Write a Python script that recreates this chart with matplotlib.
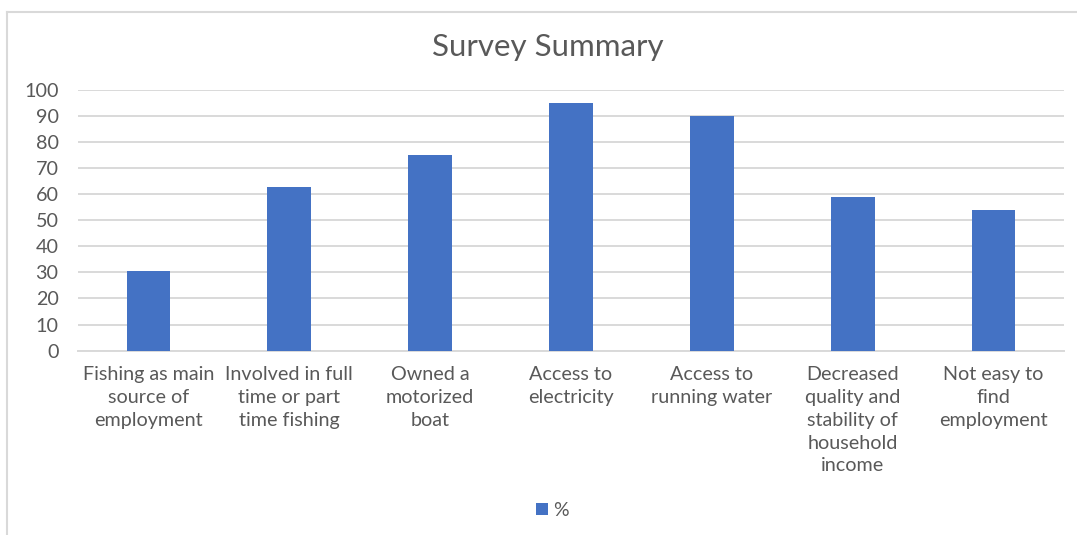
import matplotlib
matplotlib.use('Agg')
import matplotlib.pyplot as plt
import numpy as np

kategoriler = [
    'Fishing as main\nsource of\nemployment',
    'Involved in full\ntime or part\ntime fishing',
    'Owned a\nmotorized\nboat',
    'Access to\nelectricity',
    'Access to\nrunning water',
    'Decreased\nquality and\nstability of\nhousehold\nincome',
    'Not easy to\nfind\nemployment',
]
yuzdeler = [30.6, 62.6, 75, 95, 90, 58.7, 53.7]
y_ticks = [0, 10, 20, 30, 40, 50, 60, 70, 80, 90, 100]
seri_adi = '%'

plt.rcParams['font.family'] = ['Lato', 'DejaVu Sans']
gri_yazi = '#595959'
grid_renk = '#d9d9d9'

fig = plt.figure(figsize=(10.77, 5.35), dpi=100)
ax = fig.add_axes([0.0724, 0.3445, 0.9156, 0.4882])

x = np.arange(len(kategoriler))
ax.bar(x, yuzdeler, width=0.31, color='#4472C4', label=seri_adi, zorder=3)

ax.set_xlim(-0.5, len(kategoriler) - 0.5)
ax.set_ylim(0, 100)
ax.set_yticks(y_ticks)
ax.set_xticks(x)
ax.set_xticklabels(kategoriler, fontsize=14.2, color=gri_yazi, linespacing=1.42, va='top')
ax.tick_params(axis='y', labelsize=14.2, labelcolor=gri_yazi, length=0, pad=14)
ax.tick_params(axis='x', length=0, pad=11)
ax.yaxis.grid(True, color=grid_renk, linewidth=1.4, zorder=0)
for s in ['top', 'right', 'left']:
    ax.spines[s].set_visible(False)
ax.spines['bottom'].set_color(grid_renk)
ax.spines['bottom'].set_linewidth(1.4)

fig.text(0.509, 0.912, 'Survey Summary', ha='center', va='center', fontsize=22.5, color=gri_yazi)
fig.legend(loc='center', bbox_to_anchor=(0.513, 0.046), frameon=False, fontsize=14,
           handlelength=0.6, handleheight=0.6, handletextpad=0.3, labelcolor=gri_yazi)

# grafik cercevesi (sol ve ust kenar)
cerceve_x = 6.5 / 1077
cerceve_y = 1 - 12 / 535
fig.add_artist(plt.Line2D([cerceve_x, 1], [cerceve_y, cerceve_y], color=grid_renk, linewidth=1.5, transform=fig.transFigure))
fig.add_artist(plt.Line2D([cerceve_x, cerceve_x], [0, cerceve_y], color=grid_renk, linewidth=1.5, transform=fig.transFigure))

plt.savefig('out.png', dpi=100)
